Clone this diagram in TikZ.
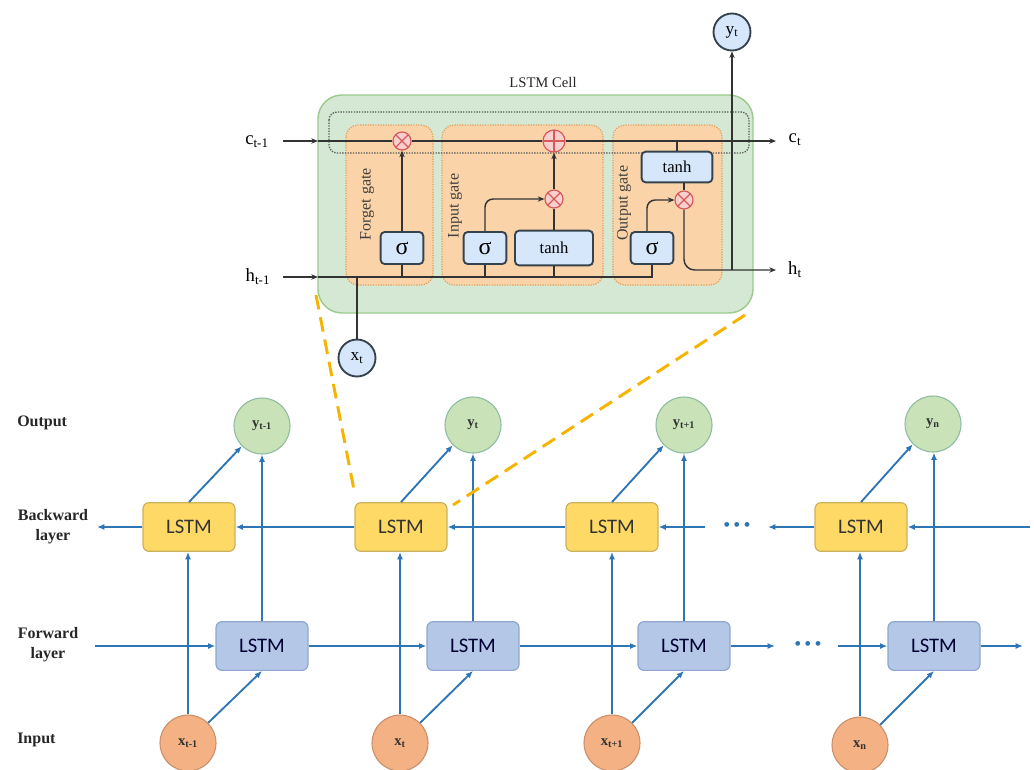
\documentclass[tikz,border=0pt]{standalone}
\usepackage{fontspec}
\setmainfont{Liberation Serif}
\newfontfamily\calfont{Carlito}
\usetikzlibrary{arrows.meta}
\definecolor{cellgreen}{HTML}{D5E8D4}
\definecolor{cellgreenb}{HTML}{9CCB8C}
\definecolor{gateor}{HTML}{FAD4A8}
\definecolor{gateorb}{HTML}{E29D58}
\definecolor{opblue}{HTML}{D6E6FB}
\definecolor{opborder}{HTML}{37424F}
\definecolor{oppink}{HTML}{F8D0CE}
\definecolor{opred}{HTML}{D9585A}
\definecolor{arrblue}{HTML}{2E75B6}
\definecolor{bwfill}{HTML}{FFD966}
\definecolor{bwdraw}{HTML}{CDB25E}
\definecolor{fwfill}{HTML}{B4C7E7}
\definecolor{fwdraw}{HTML}{8FA6CF}
\definecolor{yfill}{HTML}{C9E2B8}
\definecolor{ydraw}{HTML}{8DBBA0}
\definecolor{xfill}{HTML}{F4B183}
\definecolor{xdraw}{HTML}{C98E6A}
\definecolor{dashor}{HTML}{F5B400}
\tikzset{
  cellbox/.style={fill=cellgreen, draw=cellgreenb, line width=1.1pt, rounded corners=18pt},
  gatebox/.style={fill=gateor, draw=gateorb, densely dotted, line width=0.9pt, rounded corners=9pt},
  dotbox/.style={draw=black!65, densely dotted, line width=1pt, rounded corners=6pt},
  gatelabel/.style={rotate=90, font=\fontsize{12}{13}\selectfont, text=black!75, inner sep=0pt},
  opbox/.style={draw=opborder, fill=opblue, line width=1.4pt, rounded corners=3pt, inner sep=0pt},
  sig/.style={opbox, font=\fontsize{18}{18}\selectfont, minimum width=32pt, minimum height=24pt},
  tnh/.style={opbox, font=\fontsize{12.5}{13}\selectfont},
  mul/.style={circle, draw=opred, fill=oppink, line width=0.9pt, minimum size=13.5pt, inner sep=0pt,
    path picture={\draw[opred, line width=0.9pt]
      (path picture bounding box.south west) -- (path picture bounding box.north east)
      (path picture bounding box.north west) -- (path picture bounding box.south east);}},
  addop/.style={circle, draw=opred, fill=oppink, line width=0.9pt, minimum size=16.5pt, inner sep=0pt,
    path picture={\draw[opred, line width=0.9pt]
      (path picture bounding box.north) -- (path picture bounding box.south)
      (path picture bounding box.west) -- (path picture bounding box.east);}},
  cellio/.style={circle, draw=opborder, fill=opblue, line width=1.4pt, minimum size=27.75pt, inner sep=0pt, font=\fontsize{13}{13}\selectfont},
  iolabel/.style={font=\fontsize{14}{14}\selectfont, inner sep=0pt},
  cellline/.style={draw=black!80, line width=1.1pt},
  cellarrow/.style={cellline, -{Stealth[length=5pt,width=4pt]}},
  lstmbox/.style={rectangle, rounded corners=4.5pt, line width=0.9pt, minimum width=69pt, minimum height=36.5pt, inner sep=0pt, font=\calfont\fontsize{15.5}{15.5}\selectfont},
  bw/.style={lstmbox, fill=bwfill, draw=bwdraw, text=black!80},
  fw/.style={lstmbox, fill=fwfill, draw=fwdraw, text=black!80!blue},
  ycirc/.style={circle, fill=yfill, draw=ydraw, line width=0.8pt, minimum size=42pt, inner sep=0pt, font=\bfseries\fontsize{11}{11}\selectfont, text=black!80},
  xcirc/.style={circle, fill=xfill, draw=xdraw, line width=0.8pt, minimum size=42pt, inner sep=0pt, font=\bfseries\fontsize{11}{11}\selectfont, text=black!80},
  rowlabel/.style={font=\bfseries\fontsize{12}{15}\selectfont, align=center, inner sep=0pt, text=black!85},
  barrow/.style={draw=arrblue, line width=1.4pt, -{Latex[length=5.5pt,width=4.5pt]}},
  dots/.style={text=arrblue, font=\fontsize{15}{15}\selectfont, inner sep=0pt},
  zoomline/.style={draw=dashor, line width=2.2pt, dash pattern=on 11pt off 6pt}
}
\newcommand{\sbt}[1]{\textsubscript{#1}}
\begin{document}
\begin{tikzpicture}[x=0.75pt, y=-0.75pt]
\useasboundingbox (0,0) rectangle (1034,769);
% ===== LSTM cell =====
\path[cellbox] (318,95) rectangle (753,313);
\node[font=\fontsize{11}{12}\selectfont, text=black!85] (celltitle) at (543,82) {LSTM Cell};
\path[gatebox] (346,125) rectangle (433,285);
\path[gatebox] (442,125) rectangle (603,285);
\path[gatebox] (613,125) rectangle (722,285);
\node[gatelabel] (fgl) at (367,204) {Forget gate};
\node[gatelabel] (igl) at (455,206) {Input gate};
\node[gatelabel] (ogl) at (624,203) {Output gate};
\draw[dotbox] (329,112) rectangle (749,153);

\node[sig] (fs) at (402,248) {σ};
\node[sig] (is) at (485,248) {σ};
\node[tnh, minimum width=58.5pt, minimum height=26pt] (it) at (554,248) {tanh};
\node[sig] (os) at (652,248) {σ};
\node[tnh, minimum width=53pt, minimum height=23pt] (ot) at (677,167) {tanh};
\node[mul] (fm) at (402,141) {};
\node[addop] (ia) at (554,141) {};
\node[mul] (im) at (554,199) {};
\node[mul] (om) at (684,200) {};
\node[cellio] (yt) at (732,32) {y\sbt{t}};
\node[cellio] (xt) at (357,358) {x\sbt{t}};
\node[iolabel] (cin) at (257,142) {c\sbt{t-1}};
\node[iolabel] (hin) at (258,277) {h\sbt{t-1}};
\node[iolabel] (cout) at (795,140) {c\sbt{t}};
\node[iolabel] (hout) at (795,270) {h\sbt{t}};

\coordinate (cS) at (283,141);
\coordinate (cE) at (318,141);
\coordinate (hS) at (283,277);
\coordinate (hE) at (318,277);
\coordinate (cEnd) at (776,141);
\coordinate (hEnd) at (776,270);
\coordinate (jn) at (732,270);
\coordinate (otap) at (677,141);

% cell state line
\draw[cellarrow] (cS) -- (cE);
\draw[cellline] (cE) -- (fm.west);
\draw[cellline] (fm.east) -- (ia.west);
\draw[cellarrow] (ia.east) -- (cEnd);
\draw[cellline] (otap) -- (ot.north);
% hidden line
\draw[cellarrow] (hS) -- (hE);
\draw[cellline] (hE) -- (hE -| os.south) -- (os.south);
\draw[cellline] (xt.north) -- (xt.north |- hE);
% forget gate
\draw[cellline] (fs.south) -- (fs.south |- hE);
\draw[cellarrow] (fs.north) -- (fm.south);
% input gate
\draw[cellline] (is.south) -- (is.south |- hE);
\draw[cellline] (it.south) -- (it.south |- hE);
\draw[cellarrow, rounded corners=6pt] (is.north) |- (im.west);
\draw[cellline] (it.north) -- (im.south);
\draw[cellarrow] (im.north) -- (ia.south);
% output gate
\draw[cellarrow, rounded corners=6pt] ([xshift=-3.75pt]os.north) |- (om.west);
\draw[cellline] (ot.south -| om.north) -- (om.north);
\draw[cellarrow, rounded corners=8pt] (om.south) |- (hEnd);
\draw[cellarrow] (jn) -- (yt.south);

% ===== bidirectional network =====
\node[rowlabel, anchor=west] (lout) at (17,423) {Output};
\node[rowlabel] (lbw) at (53,527) {Backward\\layer};
\node[rowlabel] (lfw) at (48,645) {Forward\\layer};
\node[rowlabel, anchor=west] (lin) at (17,740) {Input};

\node[bw] (B1) at (189,527) {LSTM};
\node[bw] (B2) at (401,527) {LSTM};
\node[bw] (B3) at (612,527) {LSTM};
\node[bw] (B4) at (861,527) {LSTM};
\node[fw] (F1) at (262,646) {LSTM};
\node[fw] (F2) at (473,646) {LSTM};
\node[fw] (F3) at (684,646) {LSTM};
\node[fw] (F4) at (934,646) {LSTM};
\node[ycirc] (y1) at (262,426) {y\sbt{t-1}};
\node[ycirc] (y2) at (473,425) {y\sbt{t}};
\node[ycirc] (y3) at (684,425) {y\sbt{t+1}};
\node[ycirc] (y4) at (933,424) {y\sbt{n}};
\node[xcirc] (x1) at (188,743) {x\sbt{t-1}};
\node[xcirc] (x2) at (400,743) {x\sbt{t}};
\node[xcirc] (x3) at (612,743) {x\sbt{t+1}};
\node[xcirc] (x4) at (860,745) {x\sbt{n}};
\node[dots] (dotsB) at (737,527) {\textbullet\hspace{2.4pt}\textbullet\hspace{2.4pt}\textbullet};
\node[dots] (dotsF) at (808,646) {\textbullet\hspace{2.4pt}\textbullet\hspace{2.4pt}\textbullet};

\coordinate (bL) at (97,527);
\coordinate (fL) at (95,646);
\coordinate (bR) at (1030,527);
\coordinate (fR) at (1023,646);
\coordinate (bgapR) at (768,527);
\coordinate (bgapL) at (705,527);
\coordinate (fgapL) at (775,646);
\coordinate (fgapR) at (838,646);

% vertical / diagonal connections
\foreach \k in {1,2,3,4}{
  \draw[barrow] (x\k.north) -- (x\k.north |- B\k.south);
  \draw[barrow] (x\k.45) -- (F\k.south);
  \draw[barrow] (B\k.north) -- (y\k.225);
  \draw[barrow] (F\k.north) -- (F\k.north |- y\k.south);
}
% backward layer
\draw[barrow] (B1.west) -- (bL);
\draw[barrow] (B2.west) -- (B1.east);
\draw[barrow] (B3.west) -- (B2.east);
\draw[barrow] (bgapL) -- (B3.east);
\draw[barrow] (B4.west) -- (bgapR);
\draw[barrow] (bR) -- (B4.east);
% forward layer
\draw[barrow] (fL) -- (F1.west);
\draw[barrow] (F1.east) -- (F2.west);
\draw[barrow] (F2.east) -- (F3.west);
\draw[barrow] (F3.east) -- (fgapL);
\draw[barrow] (fgapR) -- (F4.west);
\draw[barrow] (F4.east) -- (fR);

% zoom lines
\coordinate (zl1) at (316,295);
\coordinate (zl2) at (355,495);
\coordinate (zr1) at (745,315);
\coordinate (zr2) at (453,505);
\draw[zoomline] (zl1) -- (zl2);
\draw[zoomline] (zr1) -- (zr2);
\end{tikzpicture}
\end{document}
